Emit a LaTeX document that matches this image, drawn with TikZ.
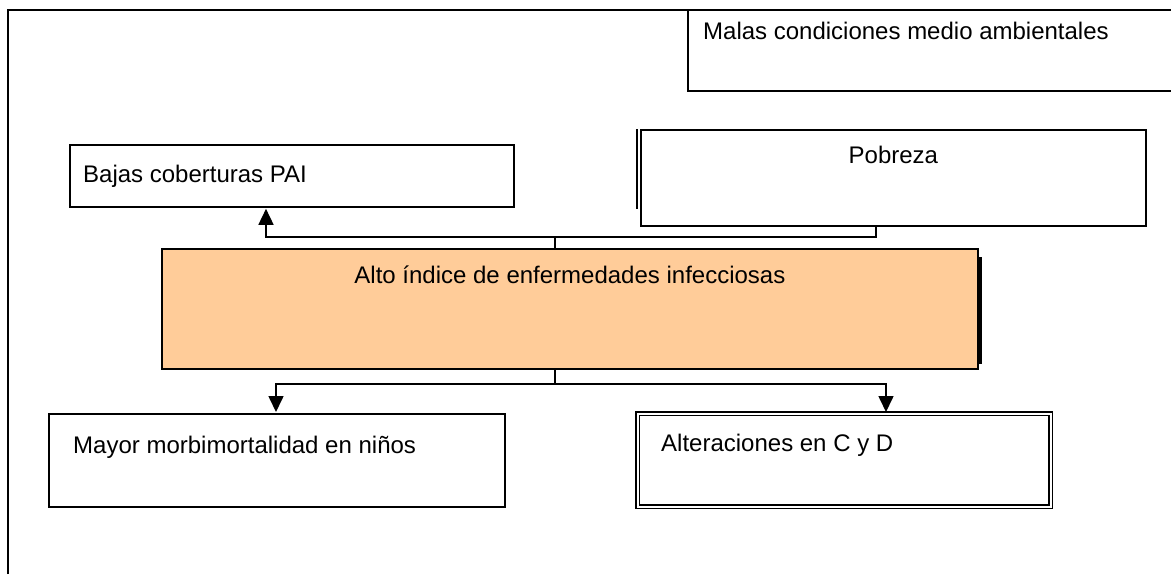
\documentclass[tikz,border=0pt]{standalone}
\usepackage{fontspec}
\setmainfont{Liberation Sans}
\usetikzlibrary{arrows.meta,calc}
\definecolor{naranjaclaro}{RGB}{255,204,153}

\begin{document}
\begin{tikzpicture}[x=1pt, y=-1pt,
    caja/.style={draw, line width=1.8pt, inner sep=0pt, anchor=north west},
    texto/.style={font=\fontsize{24}{28}\selectfont, inner sep=0pt},
    linea/.style={line width=1.6pt},
    flecha/.style={line width=1.6pt, -{Triangle[length=16pt, width=15pt]}}]
    \useasboundingbox (0,0) rectangle (1171,574);

    % Marco
    \draw[line width=2.6pt] (8,574) -- (8,10) -- (1171,10);

    % Cajas de arriba
    \node[caja, minimum width=500, minimum height=81] (malas) at (687,9) {};
    \node[texto, anchor=base west] (tmalas) at ($(malas.north west)+(16,30)$) {Malas condiciones medio ambientales};

    \node[caja, minimum width=444, minimum height=62] (bajas) at (69,144) {};
    \node[texto, anchor=base west] (tbajas) at ($(bajas.north west)+(14,38)$) {Bajas coberturas PAI};

    \node[caja, minimum width=505, minimum height=96] (pobreza) at (640,129) {};
    \draw[linea] ($(pobreza.north west)+(-3,0)$) -- ($(pobreza.south west)+(-3,-18)$);
    \node[texto, anchor=base] (tpobreza) at ($(pobreza.north)+(0,34)$) {Pobreza};

    % Problema central
    \node[caja, fill=naranjaclaro, minimum width=816, minimum height=120] (alto) at (161,248) {};
    \draw[line width=3pt] ($(alto.north east)+(2,9)$) -- ($(alto.south east)+(2,-6)$);
    \node[texto, anchor=base] (talto) at ($(alto.north)+(0,35)$) {Alto índice de enfermedades infecciosas};

    % Cajas de abajo
    \node[caja, minimum width=456, minimum height=93] (mayor) at (48,413) {};
    \node[texto, anchor=base west] (tmayor) at ($(mayor.north west)+(25,40)$) {Mayor morbimortalidad en niños};

    \node[caja, double, double distance=2pt, line width=1.3pt, minimum width=413, minimum height=93] (alter) at (637,413) {};
    \node[texto, anchor=base west] (talter) at ($(alter.north west)+(24,38)$) {Alteraciones en C y D};

    % Conectores
    \coordinate (arriba) at ($(alto.north west)+(394,0)$);
    \coordinate (union) at ($(arriba)+(0,-11)$);
    \draw[flecha] (arriba) -- (union) -| ($(bajas.south west)+(197,1)$);
    \draw[linea] (union) -| ($(pobreza.south west)+(236,0)$);

    \coordinate (abajo) at ($(alto.south west)+(394,0)$);
    \coordinate (reparto) at ($(abajo)+(0,14)$);
    \draw[linea] (abajo) -- (reparto);
    \draw[flecha] (reparto) -| ($(mayor.north west)+(228,-1)$);
    \draw[flecha] (reparto) -| ($(alter.north west)+(249,-1)$);
\end{tikzpicture}
\end{document}
